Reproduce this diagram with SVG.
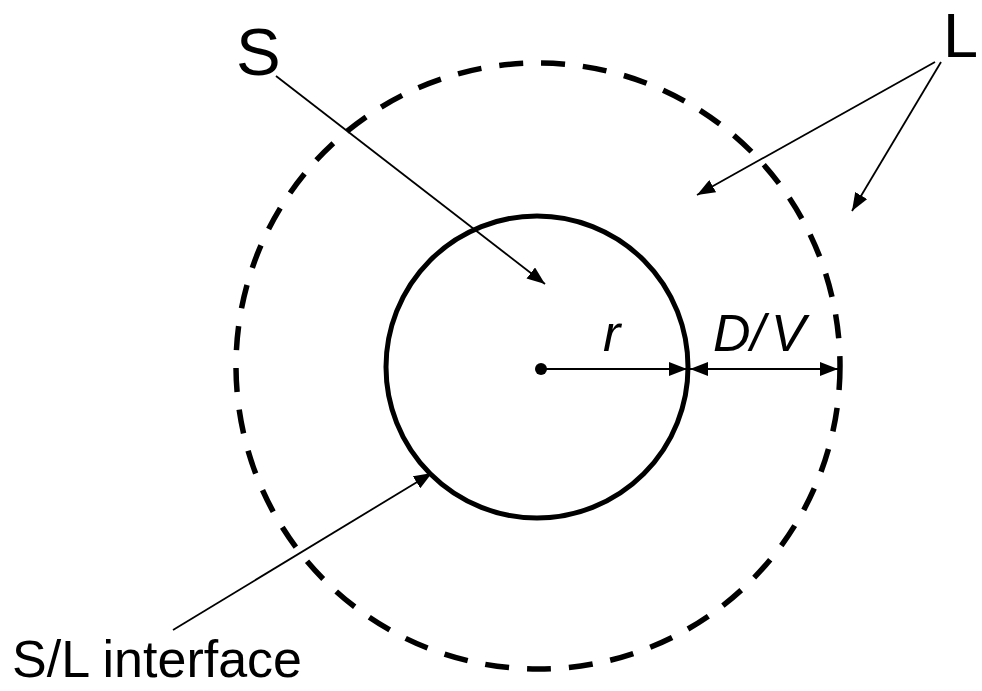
<svg xmlns="http://www.w3.org/2000/svg" width="982" height="691" viewBox="0 0 982 691">
<style>
.lbl{font-family:"Liberation Sans",Arial,sans-serif;fill:#000}
.it{font-style:italic}
.thin{stroke:#000;stroke-width:1.8;fill:none}
</style>
<defs>
<marker id="ah" markerUnits="userSpaceOnUse" markerWidth="18" markerHeight="14" viewBox="0 0 18 14" refX="18" refY="7" orient="auto-start-reverse">
<path d="M0,0 L18,7 L0,14 Z" fill="#000"/>
</marker>
</defs>
<rect width="982" height="691" fill="#fff"/>
<g id="outer-circle">
<ellipse cx="538" cy="366" rx="302" ry="303" fill="none" stroke="#000" stroke-width="5.5" stroke-dasharray="24 18"/>
</g>
<g id="inner-circle">
<circle cx="537" cy="367" r="151" fill="none" stroke="#000" stroke-width="5"/>
</g>
<g id="center">
<circle cx="541" cy="369" r="6" fill="#000"/>
</g>
<g id="connectors">
<line class="thin" x1="276" y1="76" x2="545" y2="284" marker-end="url(#ah)"/>
<line class="thin" x1="935" y1="62" x2="697" y2="195" marker-end="url(#ah)"/>
<line class="thin" x1="941" y1="62" x2="852" y2="211" marker-end="url(#ah)"/>
<line class="thin" x1="173" y1="630" x2="432" y2="473" marker-end="url(#ah)"/>
<line class="thin" x1="541" y1="369" x2="687" y2="369" marker-end="url(#ah)"/>
<line class="thin" x1="690" y1="369" x2="838" y2="369" marker-start="url(#ah)" marker-end="url(#ah)"/>
</g>
<g id="label-S"><text class="lbl" x="236" y="75" font-size="67">S</text></g>
<g id="label-L"><text class="lbl" x="943" y="57" font-size="63">L</text></g>
<g id="label-r"><text class="lbl it" x="603" y="351" font-size="52">r</text></g>
<g id="label-DV"><text class="lbl it" x="713" y="351" font-size="52">D/<tspan dx="6">V</tspan></text></g>
<g id="label-SL"><text class="lbl" x="12" y="677" font-size="52">S/L interface</text></g>
</svg>
